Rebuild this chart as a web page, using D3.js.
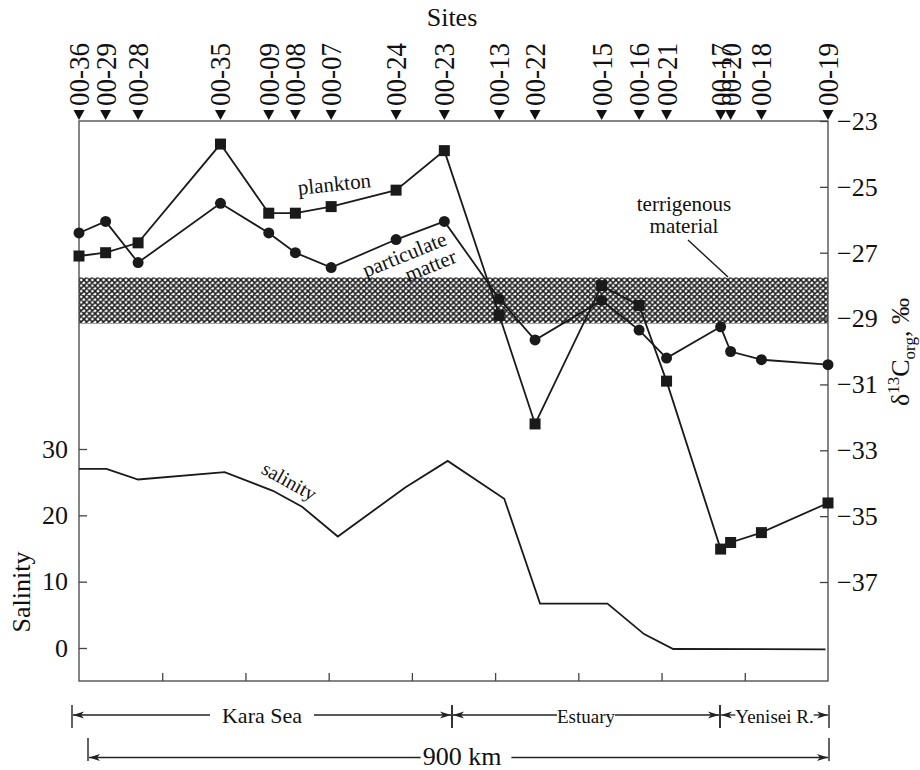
<!DOCTYPE html>
<html>
<head>
<meta charset="utf-8">
<script src="https://cdn.jsdelivr.net/npm/d3@7"></script>
<style>
  body { margin: 0; background: #fff; }
</style>
</head>
<body>
<svg id="chart" width="920" height="770"></svg>
<script>
// sites along the transect (distance in km from the first site)
var sites = ["00-36","00-29","00-28","00-35","00-09","00-08","00-07","00-24","00-23",
             "00-13","00-22","00-15","00-16","00-21","00-17","00-20","00-18","00-19"];
var siteKm = [0, 32, 71, 170, 228, 260, 303, 381, 439, 505, 548, 628, 673, 706, 771, 783, 820, 900];

// d13C org, per mil
var plankton = [-27.1, -27.0, -26.7, -23.7, -25.8, -25.8, -25.6, -25.1, -23.9,
                -28.9, -32.2, -28.0, -28.6, -30.9, -36.0, -35.8, -35.5, -34.6];
var particulate = [-26.4, -26.05, -27.3, -25.5, -26.4, -27.0, -27.45, -26.6, -26.05,
                   -28.4, -29.65, -28.45, -29.35, -30.2, -29.25, -30.0, -30.25, -30.4];

// salinity profile
var salinityKm = [0, 33, 71, 175, 233, 268, 311, 392, 443, 511, 554, 635, 679, 714, 897];
var salinity = [27.0, 27.0, 25.4, 26.5, 23.7, 21.3, 16.8, 24.2, 28.2, 22.5, 6.7, 6.7, 2.1, -0.15, -0.2];

// terrigenous material band
var terrigenous = [-27.75, -29.15];

var carbonTicks = [-23, -25, -27, -29, -31, -33, -35, -37];
var salinityTicks = [0, 10, 20, 30];
var kmTicks = [100, 200, 300, 400, 500, 600, 700, 800];

var serif = '"Liberation Serif", serif';
var svg = d3.select("#chart");
var pLeft = 79, pRight = 828, pTop = 121, pBottom = 681;

var x = d3.scaleLinear().domain([0, 900]).range([pLeft, pRight]);
var yC = d3.scaleLinear().domain([-37, -23]).range([582, pTop]);
var yS = d3.scaleLinear().domain([0, 30]).range([648, 449]);

function label(parent, size) {
  return parent.append("text").style("font-family", serif).style("font-size", size + "px").attr("fill", "#111");
}

// hatch pattern (cross-hatched diamonds)
var defs = svg.append("defs");
var hp = 5.6;
var pat = defs.append("pattern").attr("id", "hatch").attr("patternUnits", "userSpaceOnUse")
  .attr("width", hp).attr("height", hp);
pat.append("path")
  .attr("d", "M0,0 L" + hp + "," + hp + " M" + hp + ",0 L0," + hp +
             " M-1," + (hp - 1) + " L1," + (hp + 1) + " M" + (hp - 1) + ",-1 L" + (hp + 1) + ",1" +
             " M-1,1 L1,-1 M" + (hp - 1) + "," + (hp + 1) + " L" + (hp + 1) + "," + (hp - 1))
  .attr("stroke", "#1a1a1a").attr("stroke-width", 1.5);

svg.append("rect")
  .attr("x", pLeft).attr("width", pRight - pLeft)
  .attr("y", yC(terrigenous[0])).attr("height", yC(terrigenous[1]) - yC(terrigenous[0]))
  .attr("fill", "url(#hatch)");

// frame
svg.append("rect").attr("x", pLeft).attr("y", pTop).attr("width", pRight - pLeft).attr("height", pBottom - pTop)
  .attr("fill", "none").attr("stroke", "#444").attr("stroke-width", 1.3);

// axes
var axR = svg.append("g").attr("transform", "translate(" + pRight + ",0)")
  .call(d3.axisRight(yC).tickValues(carbonTicks).tickSize(-8).tickPadding(9));
var axL = svg.append("g").attr("transform", "translate(" + pLeft + ",0)")
  .call(d3.axisLeft(yS).tickValues(salinityTicks).tickSize(-8).tickPadding(11));
var axB = svg.append("g").attr("transform", "translate(0," + pBottom + ")")
  .call(d3.axisBottom(x).tickValues(kmTicks).tickSize(-8).tickFormat(""));
[axR, axL, axB].forEach(function(a) {
  a.select(".domain").remove();
  a.selectAll("line").attr("stroke", "#444").attr("stroke-width", 1.3);
  a.selectAll("text").style("font-size", "26px").attr("fill", "#111").style("font-family", serif);
});

// lines
var lineC = d3.line().x(function(d, i) { return x(siteKm[i]); }).y(function(d) { return yC(d); });
var lineS = d3.line().x(function(d, i) { return x(salinityKm[i]); }).y(function(d) { return yS(d); });

svg.append("path").datum(salinity).attr("d", lineS)
  .attr("fill", "none").attr("stroke", "#1a1a1a").attr("stroke-width", 1.8);
svg.append("path").datum(particulate).attr("d", lineC)
  .attr("fill", "none").attr("stroke", "#1a1a1a").attr("stroke-width", 1.8);
svg.append("path").datum(plankton).attr("d", lineC)
  .attr("fill", "none").attr("stroke", "#1a1a1a").attr("stroke-width", 1.8);

svg.selectAll(".pm").data(particulate).enter().append("circle")
  .attr("cx", function(d, i) { return x(siteKm[i]); })
  .attr("cy", function(d) { return yC(d); })
  .attr("r", 5.5).attr("fill", "#1a1a1a");
svg.selectAll(".pl").data(plankton).enter().append("rect")
  .attr("x", function(d, i) { return x(siteKm[i]) - 5.5; })
  .attr("y", function(d) { return yC(d) - 5.5; })
  .attr("width", 11).attr("height", 11).attr("fill", "#1a1a1a");

// site markers and labels on top
var sg = svg.selectAll(".site").data(sites).enter().append("g")
  .attr("transform", function(d, i) { return "translate(" + x(siteKm[i]) + ",0)"; });
sg.append("path").attr("d", "M-5.5,110 L5.5,110 L0,120 Z").attr("fill", "#111");
sg.append("text")
  .attr("transform", "translate(10,106) rotate(-90)")
  .attr("textLength", 63).attr("lengthAdjust", "spacingAndGlyphs")
  .style("font-family", serif).style("font-size", "30px").attr("fill", "#111")
  .text(function(d) { return d; });

label(svg, 26).attr("x", 452).attr("y", 26).attr("text-anchor", "middle").text("Sites");

// axis titles
label(svg, 26).attr("transform", "translate(30,592) rotate(-90)").attr("text-anchor", "middle").text("Salinity");

var rt = label(svg, 26).attr("transform", "translate(909,352) rotate(-90)").attr("text-anchor", "middle");
rt.append("tspan").text("δ");
rt.append("tspan").attr("dy", -10).style("font-size", "17px").text("13");
rt.append("tspan").attr("dy", 10).text("C");
rt.append("tspan").attr("dy", 6).style("font-size", "17px").text("org");
rt.append("tspan").attr("dy", -6).text(", ‰");

// curve annotations
label(svg, 21).attr("transform", "translate(335,191) rotate(-6)").attr("text-anchor", "middle").text("plankton");
var pmLab = svg.append("g").attr("transform", "translate(407,261) rotate(-22)");
label(pmLab, 21).attr("text-anchor", "middle").text("particulate");
label(pmLab, 21).attr("x", 20).attr("y", 20).attr("text-anchor", "middle").text("matter");
label(svg, 20).attr("transform", "translate(286,487) rotate(29)").attr("text-anchor", "middle").text("salinity");

label(svg, 21).attr("x", 684).attr("y", 211).attr("text-anchor", "middle").text("terrigenous");
label(svg, 21).attr("x", 684).attr("y", 233).attr("text-anchor", "middle").text("material");
svg.append("line").attr("x1", 688).attr("y1", 240).attr("x2", 728).attr("y2", 277)
  .attr("stroke", "#1a1a1a").attr("stroke-width", 1.4);

// region brackets under the plot
function arrowHead(px, py, dir) {
  svg.append("path")
    .attr("d", "M" + px + "," + py + " L" + (px - dir * 11) + "," + (py - 3.5) +
               " L" + (px - dir * 8) + "," + py + " L" + (px - dir * 11) + "," + (py + 3.5) + " Z")
    .attr("fill", "#222");
}
function hline(x1, x2, yy) {
  svg.append("line").attr("x1", x1).attr("x2", x2).attr("y1", yy).attr("y2", yy)
    .attr("stroke", "#222").attr("stroke-width", 1.3);
}
function vbar(xx, y1, y2) {
  svg.append("line").attr("x1", xx).attr("x2", xx).attr("y1", y1).attr("y2", y2)
    .attr("stroke", "#222").attr("stroke-width", 1.4);
}

var regions = [
  { name: "Kara Sea", x1: 72, x2: 452, size: 22, gap: 12 },
  { name: "Estuary", x1: 452, x2: 720, size: 19, gap: 0 },
  { name: "Yenisei R.", x1: 720, x2: 829, size: 19, gap: 0 }
];
var ry = 715;
regions.forEach(function(r) {
  vbar(r.x1, 705, 728);
  vbar(r.x2, 705, 728);
  var cx = (r.x1 + r.x2) / 2;
  var t = label(svg, r.size).attr("x", cx).attr("y", ry + 8).attr("text-anchor", "middle").text(r.name);
  var w = t.node().getComputedTextLength();
  hline(r.x1 + 1, cx - w / 2 - r.gap, ry);
  hline(cx + w / 2 + r.gap, r.x2 - 1, ry);
  arrowHead(r.x1 + 1, ry, -1);
  arrowHead(r.x2 - 1, ry, 1);
});

// 900 km scale
var ky = 757.5;
vbar(88, 738, 761);
vbar(829, 738, 761);
var kt = label(svg, 26).attr("x", 462).attr("y", 765).attr("text-anchor", "middle").text("900 km");
var kw = kt.node().getComputedTextLength();
hline(89, 462 - kw / 2 - 2, ky);
hline(462 + kw / 2 + 10, 828, ky);
arrowHead(89, ky, -1);
arrowHead(828, ky, 1);
</script>
</body>
</html>
